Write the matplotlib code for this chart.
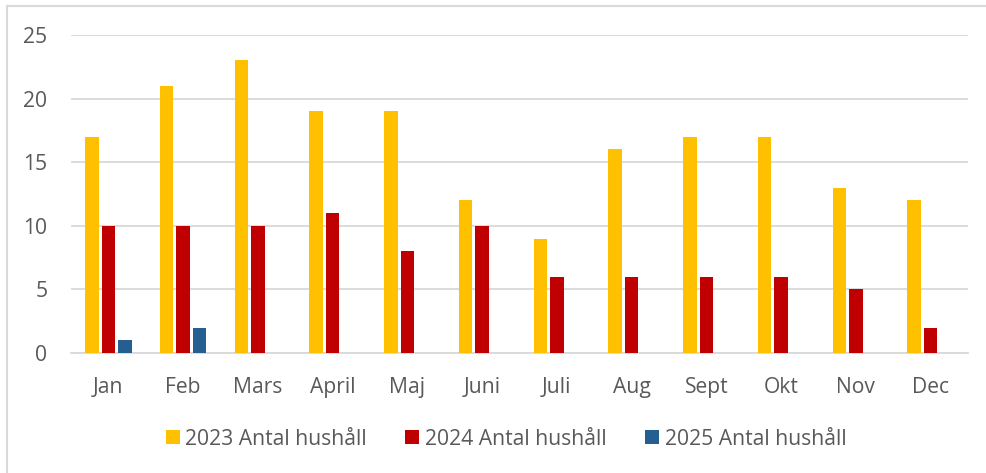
import numpy as np
import matplotlib
matplotlib.use("Agg")
import matplotlib.pyplot as plt
from matplotlib.lines import Line2D

plt.rcParams['font.family'] = ['Open Sans', 'DejaVu Sans']

months = ["Jan", "Feb", "Mars", "April", "Maj", "Juni", "Juli", "Aug", "Sept", "Okt", "Nov", "Dec"]
hh_2023 = [17, 21, 23, 19, 19, 12, 9, 16, 17, 17, 13, 12]
hh_2024 = [10, 10, 10, 11, 8, 10, 6, 6, 6, 6, 5, 2]
hh_2025 = [1, 2]  # only Jan and Feb so far

labels = ["2023 Antal hushåll", "2024 Antal hushåll", "2025 Antal hushåll"]
colors = ["#FFC000", "#C00000", "#255E91"]

TEXT = "#595959"
GRID = "#D9D9D9"
FS = 15.2


def main():
    fig = plt.figure(figsize=(9.87, 4.73), dpi=100)
    ax = fig.add_axes([71 / 987, 1 - 353 / 473, (968 - 71) / 987, (353 - 35) / 473])

    x = np.arange(len(months))
    width = 0.18
    step = 0.222
    series = [hh_2023, hh_2024, hh_2025]
    for i, (vals, lab, col) in enumerate(zip(series, labels, colors)):
        xs = x[:len(vals)] + (i - 1) * step
        ax.bar(xs, vals, width=width, color=col, label=lab, zorder=3)

    ax.set_xlim(-0.5, len(months) - 0.5)
    ax.set_ylim(0, 25)
    ax.set_yticks([0, 5, 10, 15, 20, 25])
    ax.set_xticks(x)
    ax.set_xticklabels(months)
    ax.yaxis.grid(True, color=GRID, linewidth=1.3, zorder=0)
    ax.set_axisbelow(True)
    for s in ["top", "right", "left"]:
        ax.spines[s].set_visible(False)
    ax.spines["bottom"].set_color(GRID)
    ax.spines["bottom"].set_linewidth(1.3)
    ax.tick_params(axis="both", length=0, labelsize=FS, colors=TEXT)
    ax.tick_params(axis="y", pad=17)
    ax.tick_params(axis="x", pad=17.5)

    handles, labs = ax.get_legend_handles_labels()
    fig.legend(handles, labs, loc="center", bbox_to_anchor=(506 / 987, 1 - 439 / 473), ncol=3,
               frameon=False, fontsize=FS, handlelength=0.66, handleheight=0.66,
               handletextpad=0.28, columnspacing=1.8, labelcolor=TEXT)

    # chart frame (only left and top edges visible in the screenshot)
    fig.add_artist(Line2D([7 / 987, 7 / 987], [0, 1 - 6 / 473], color=GRID, linewidth=1.5,
                          transform=fig.transFigure))
    fig.add_artist(Line2D([7 / 987, 1], [1 - 6 / 473, 1 - 6 / 473], color=GRID, linewidth=1.5,
                          transform=fig.transFigure))

    fig.savefig("out.png", dpi=100)


if __name__ == "__main__":
    main()
